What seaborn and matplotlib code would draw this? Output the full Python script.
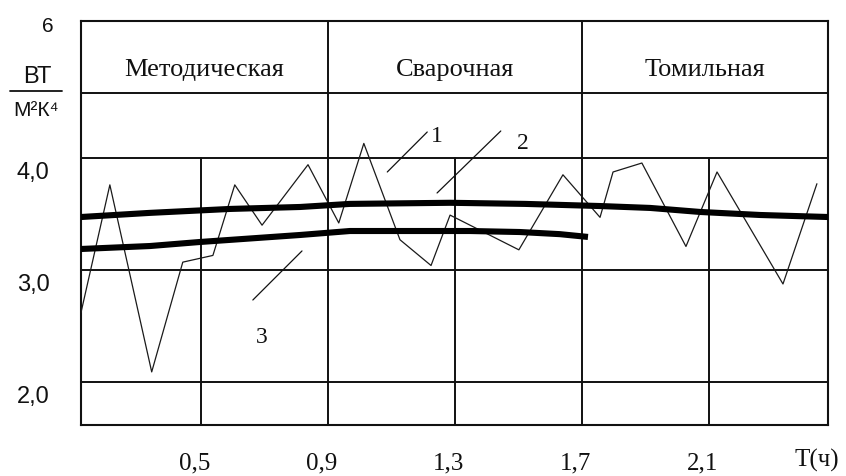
import matplotlib
matplotlib.use("Agg")
import matplotlib.pyplot as plt
import seaborn as sns
import pandas as pd
from matplotlib.lines import Line2D

# ---------------- data ----------------
t1 = [0.12, 0.211, 0.343, 0.441, 0.536, 0.605, 0.691, 0.836, 0.933, 1.012, 1.126,
      1.224, 1.284, 1.501, 1.640, 1.757, 1.798, 1.889, 2.028, 2.126, 2.334, 2.441]
c1 = [2.62, 3.76, 2.09, 3.07, 3.13, 3.76, 3.40, 3.94, 3.42, 4.13, 3.27,
      3.04, 3.49, 3.18, 3.85, 3.47, 3.875, 3.955, 3.21, 3.875, 2.875, 3.77]
t2 = [0.12, 0.338, 0.590, 0.811, 0.968, 1.284, 1.521, 1.757, 1.915, 2.073, 2.262, 2.476]
c2 = [3.473, 3.51, 3.545, 3.5625, 3.59, 3.60, 3.59, 3.571, 3.554, 3.518, 3.491, 3.473]
t3 = [0.12, 0.338, 0.495, 0.811, 0.968, 1.347, 1.504, 1.630, 1.719]
c3 = [3.1875, 3.214, 3.25, 3.3125, 3.348, 3.348, 3.339, 3.32, 3.295]

x_ticks = [0.5, 0.9, 1.3, 1.7, 2.1]
x_tick_labels = ["0,5", "0,9", "1,3", "1,7", "2,1"]
y_ticks = [2.0, 3.0, 4.0]
y_tick_labels = ["2,0", "3,0", "4,0"]
sections = ["Методическая", "Сварочная", "Томильная"]
section_bounds = [0.12, 0.9, 1.7, 2.476]
header_y = 4.58
x_range = (0.12, 2.476)
y_range = (1.616, 5.223)

# curve labels: (text, label x, label y, leader x0, y0, x1, y1)
curve_labels = [
    ("1", 1.243, 4.19, 1.212, 4.232, 1.086, 3.875),
    ("2", 1.514, 4.13, 1.444, 4.241, 1.243, 3.6875),
    ("3", 0.691, 2.40, 0.662, 2.732, 0.817, 3.17),
]

# ---------------- figure ----------------
sns.set_style("white")
plt.rcParams["font.family"] = ["Liberation Sans", "DejaVu Sans"]

W, H = 846, 476
fig = plt.figure(figsize=(W / 100, H / 100), dpi=100)
ax = fig.add_axes([81 / W, 1 - 425 / H, (828 - 81) / W, (425 - 21) / H])
ax.set_xlim(*x_range)
ax.set_ylim(*y_range)

ink = "#111111"
for s in ax.spines.values():
    s.set_color(ink)
    s.set_linewidth(1.5)
    s.set_visible(True)

# grid structure
for y in y_ticks + [header_y]:
    ax.axhline(y, color=ink, lw=1.4, zorder=1)
ymax_part = (4.0 - y_range[0]) / (y_range[1] - y_range[0])
for x in x_ticks:
    if x in section_bounds:
        ax.axvline(x, color=ink, lw=1.4, zorder=1)
    else:
        ax.axvline(x, ymax=ymax_part, color=ink, lw=1.4, zorder=1)

# curves
d1 = pd.DataFrame({"t": t1, "c": c1})
d2 = pd.DataFrame({"t": t2, "c": c2})
d3 = pd.DataFrame({"t": t3, "c": c3})
sns.lineplot(data=d1, x="t", y="c", ax=ax, color="#1a1a1a", lw=0.9,
             estimator=None, sort=False, zorder=3)
sns.lineplot(data=d2, x="t", y="c", ax=ax, color="black", lw=4.4,
             estimator=None, sort=False, zorder=4, solid_capstyle="butt")
sns.lineplot(data=d3, x="t", y="c", ax=ax, color="black", lw=4.4,
             estimator=None, sort=False, zorder=4, solid_capstyle="butt")

ax.set_xticks([])
ax.set_yticks([])
ax.set_xlabel("")
ax.set_ylabel("")

serif = ["Liberation Serif", "DejaVu Serif"]

# section titles
for name, a, b in zip(sections, section_bounds[:-1], section_bounds[1:]):
    ax.text((a + b) / 2, 4.785, name, ha="center", va="center",
            fontsize=19, family=serif, color=ink)

# curve labels and leaders
for txt, lx, ly, x0, y0, x1, y1 in curve_labels:
    ax.plot([x0, x1], [y0, y1], color=ink, lw=0.9, zorder=5)
    ax.text(lx, ly, txt, ha="center", va="center", fontsize=17,
            family=serif, color=ink)

# y tick labels (sit slightly below their lines, as in the drawing)
ytr = ax.get_yaxis_transform()
for v, lab in zip(y_ticks, y_tick_labels):
    ax.text(-0.064, v - 0.13, lab, transform=ytr, ha="center", va="center",
            fontsize=17, color=ink)

# x tick labels
xtr = ax.get_xaxis_transform()
for v, lab in zip(x_ticks, x_tick_labels):
    ax.text(v - 0.02, -0.094, lab, transform=xtr, ha="center", va="center",
            fontsize=18, family=serif, color=ink)
ax.text(2.441, -0.087, "T(ч)", transform=xtr, ha="center", va="center",
        fontsize=18, family=serif, color=ink)

# unit label on the y axis
fig.text(48 / W, 1 - 26 / H, "6", ha="center", va="center", fontsize=15, color=ink)
fig.text(37 / W, 1 - 77 / H, "ВТ", ha="center", va="center", fontsize=17, color=ink)
fig.add_artist(Line2D([10 / W, 62 / W], [1 - 91 / H, 1 - 91 / H],
                      transform=fig.transFigure, color=ink, lw=1.3))
fig.text(36 / W, 1 - 110 / H, "М²К⁴", ha="center", va="center", fontsize=15,
         color=ink, family=["Liberation Sans", "DejaVu Sans"])

fig.savefig("out.png", dpi=100)
